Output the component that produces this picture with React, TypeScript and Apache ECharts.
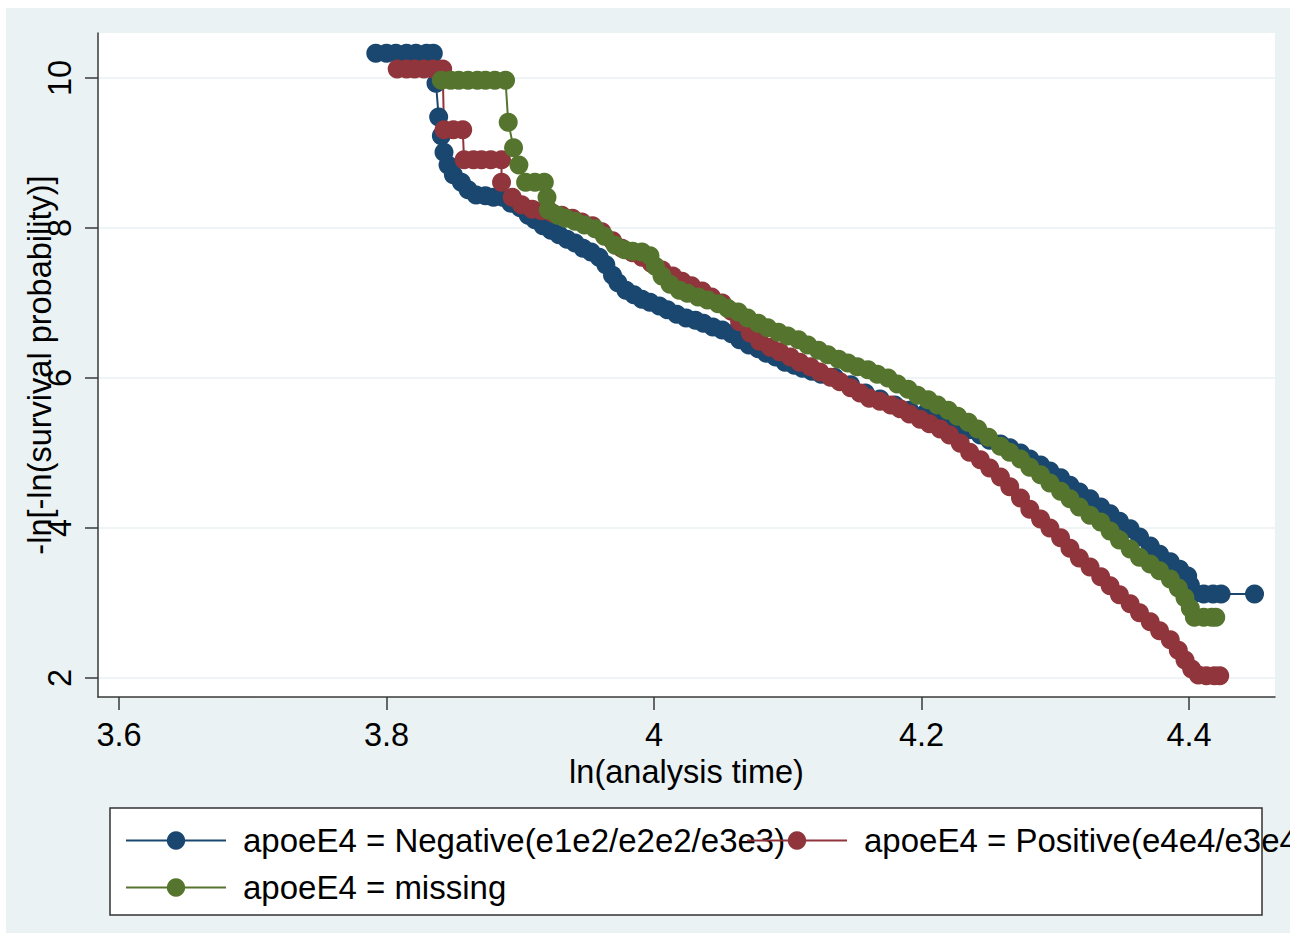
import React, { useEffect, useRef } from "react";
import * as echarts from "echarts";

const FONT = "'Liberation Sans', Arial, Helvetica, sans-serif";

const xTicks = [3.6, 3.8, 4.0, 4.2, 4.4];
const yTicks = [2, 4, 6, 8, 10];
const xRange = [3.5843, 4.4643];
const yRange = [1.747, 10.6];

const seriesNames = [
  "apoeE4 = Negative(e1e2/e2e2/e3e3)",
  "apoeE4 = Positive(e4e4/e3e4)",
  "apoeE4 = missing",
];
const seriesColors = ["#1A476F", "#90353B", "#55752F"];

// apoeE4 = Negative
const negX = [3.792, 3.800, 3.807, 3.815, 3.822, 3.830, 3.835, 3.837, 3.839, 3.841, 3.843, 3.846, 3.850, 3.856, 3.861, 3.867, 3.874, 3.880, 3.887, 3.893, 3.900, 3.906, 3.911, 3.917, 3.923, 3.929, 3.935, 3.941, 3.947, 3.953, 3.959, 3.964, 3.969, 3.973, 3.979, 3.985, 3.991, 3.997, 4.004, 4.010, 4.017, 4.024, 4.031, 4.037, 4.044, 4.051, 4.058, 4.064, 4.071, 4.078, 4.084, 4.091, 4.098, 4.105, 4.111, 4.118, 4.125, 4.135, 4.147, 4.158, 4.169, 4.180, 4.191, 4.203, 4.214, 4.221, 4.229, 4.236, 4.244, 4.251, 4.259, 4.266, 4.274, 4.281, 4.289, 4.296, 4.304, 4.311, 4.318, 4.326, 4.334, 4.341, 4.348, 4.356, 4.363, 4.371, 4.378, 4.386, 4.393, 4.399, 4.401, 4.404, 4.411, 4.418, 4.424, 4.449];
const negY = [10.33, 10.33, 10.33, 10.33, 10.33, 10.33, 10.33, 9.93, 9.48, 9.23, 9.01, 8.84, 8.71, 8.61, 8.51, 8.44, 8.43, 8.41, 8.41, 8.33, 8.27, 8.17, 8.11, 8.03, 7.97, 7.91, 7.85, 7.80, 7.73, 7.68, 7.61, 7.51, 7.37, 7.27, 7.17, 7.11, 7.05, 7.01, 6.96, 6.91, 6.85, 6.80, 6.77, 6.73, 6.68, 6.64, 6.59, 6.51, 6.44, 6.39, 6.33, 6.28, 6.21, 6.17, 6.13, 6.09, 6.05, 6.01, 5.91, 5.80, 5.72, 5.64, 5.57, 5.53, 5.47, 5.43, 5.37, 5.31, 5.24, 5.17, 5.12, 5.07, 5.00, 4.92, 4.84, 4.76, 4.67, 4.57, 4.48, 4.39, 4.28, 4.19, 4.09, 3.99, 3.88, 3.76, 3.65, 3.55, 3.45, 3.36, 3.24, 3.13, 3.12, 3.12, 3.12, 3.12];

// apoeE4 = Positive
const posX = [3.808, 3.815, 3.821, 3.828, 3.835, 3.842, 3.843, 3.850, 3.857, 3.858, 3.865, 3.871, 3.878, 3.886, 3.886, 3.894, 3.901, 3.909, 3.916, 3.924, 3.931, 3.939, 3.946, 3.954, 3.961, 3.969, 3.976, 3.984, 3.991, 3.998, 4.006, 4.014, 4.021, 4.028, 4.036, 4.043, 4.051, 4.058, 4.064, 4.072, 4.079, 4.087, 4.094, 4.102, 4.109, 4.117, 4.124, 4.132, 4.139, 4.147, 4.154, 4.161, 4.169, 4.177, 4.184, 4.191, 4.199, 4.206, 4.214, 4.221, 4.229, 4.236, 4.244, 4.251, 4.259, 4.266, 4.274, 4.281, 4.289, 4.296, 4.304, 4.311, 4.318, 4.326, 4.334, 4.341, 4.348, 4.356, 4.363, 4.371, 4.378, 4.386, 4.392, 4.397, 4.402, 4.407, 4.413, 4.419, 4.423];
const posY = [10.12, 10.12, 10.12, 10.12, 10.12, 10.12, 9.31, 9.31, 9.31, 8.91, 8.91, 8.91, 8.91, 8.91, 8.61, 8.41, 8.31, 8.25, 8.23, 8.20, 8.17, 8.13, 8.08, 8.03, 7.95, 7.83, 7.73, 7.67, 7.61, 7.53, 7.44, 7.36, 7.29, 7.23, 7.16, 7.08, 7.00, 6.89, 6.75, 6.60, 6.49, 6.41, 6.35, 6.28, 6.21, 6.15, 6.08, 6.01, 5.95, 5.87, 5.80, 5.73, 5.69, 5.64, 5.59, 5.52, 5.45, 5.39, 5.32, 5.24, 5.13, 5.01, 4.91, 4.80, 4.68, 4.55, 4.40, 4.25, 4.12, 4.00, 3.87, 3.73, 3.60, 3.48, 3.35, 3.23, 3.11, 2.99, 2.87, 2.75, 2.63, 2.51, 2.37, 2.24, 2.12, 2.04, 2.03, 2.03, 2.03];

// apoeE4 = missing
const misX = [3.841, 3.848, 3.854, 3.861, 3.868, 3.874, 3.881, 3.889, 3.891, 3.895, 3.899, 3.904, 3.911, 3.918, 3.920, 3.921, 3.928, 3.934, 3.941, 3.948, 3.956, 3.963, 3.971, 3.978, 3.984, 3.991, 3.997, 4.001, 4.006, 4.012, 4.019, 4.025, 4.033, 4.040, 4.048, 4.055, 4.063, 4.070, 4.078, 4.085, 4.093, 4.100, 4.108, 4.115, 4.123, 4.130, 4.138, 4.145, 4.152, 4.160, 4.167, 4.175, 4.182, 4.190, 4.197, 4.205, 4.212, 4.220, 4.227, 4.235, 4.242, 4.250, 4.259, 4.266, 4.274, 4.281, 4.289, 4.296, 4.304, 4.311, 4.318, 4.326, 4.334, 4.341, 4.348, 4.356, 4.363, 4.371, 4.378, 4.386, 4.392, 4.397, 4.401, 4.404, 4.411, 4.417, 4.420];
const misY = [9.97, 9.97, 9.97, 9.97, 9.97, 9.97, 9.97, 9.97, 9.41, 9.07, 8.84, 8.61, 8.61, 8.61, 8.41, 8.24, 8.17, 8.13, 8.09, 8.04, 7.99, 7.89, 7.77, 7.71, 7.69, 7.68, 7.63, 7.49, 7.36, 7.25, 7.17, 7.13, 7.08, 7.04, 6.99, 6.93, 6.88, 6.80, 6.73, 6.67, 6.61, 6.56, 6.51, 6.44, 6.37, 6.31, 6.25, 6.20, 6.15, 6.11, 6.05, 6.00, 5.92, 5.85, 5.77, 5.71, 5.64, 5.57, 5.49, 5.41, 5.32, 5.21, 5.09, 5.01, 4.92, 4.81, 4.71, 4.60, 4.49, 4.39, 4.28, 4.17, 4.08, 3.96, 3.84, 3.72, 3.61, 3.52, 3.43, 3.32, 3.20, 3.07, 2.93, 2.81, 2.81, 2.81, 2.81];

const seriesX = [negX, posX, misX];
const seriesY = [negY, posY, misY];

const textStyleBase = { fontFamily: FONT, fontSize: 32.5, color: "#000" };
const axisColor = "#3a3a3a";
const gridColor = "#EAF2F3";

export default function App() {
  const ref = useRef<HTMLDivElement>(null);

  useEffect(() => {
    if (!ref.current) return;
    const chart = echarts.init(ref.current, undefined, { renderer: "svg" });

    const series = seriesNames.map((name, i) => ({
      name,
      type: "line",
      data: seriesX[i].map((x, j) => [x, seriesY[i][j]]),
      symbol: "circle",
      symbolSize: 19,
      showSymbol: true,
      color: seriesColors[i],
      itemStyle: { color: seriesColors[i], borderWidth: 0 },
      lineStyle: { color: seriesColors[i], width: 2 },
      emphasis: { disabled: true },
      silent: true,
      clip: false,
    }));

    const legendBase = {
      orient: "horizontal",
      padding: 0,
      itemWidth: 100,
      itemHeight: 23,
      itemGap: 0,
      selectedMode: false,
      textStyle: { ...textStyleBase, fontSize: 33, lineHeight: 32, padding: [0, 0, 0, 12] },
    };

    chart.setOption({
      animation: false,
      backgroundColor: "#EAF2F3",
      textStyle: { fontFamily: FONT },
      grid: {
        left: 92,
        top: 25,
        right: 15,
        bottom: 236,
        show: true,
        backgroundColor: "#ffffff",
        borderWidth: 0,
        containLabel: false,
        outerBoundsMode: "none",
      },
      xAxis: {
        type: "value",
        min: xRange[0],
        max: xRange[1],
        name: "ln(analysis time)",
        nameLocation: "middle",
        nameGap: 58,
        nameMoveOverlap: false,
        nameTextStyle: { ...textStyleBase },
        axisLine: { show: true, onZero: false, lineStyle: { color: axisColor, width: 1.5 } },
        axisTick: { show: true, length: 13, customValues: xTicks, lineStyle: { color: axisColor, width: 1.5 } },
        axisLabel: { customValues: xTicks, margin: 21, ...textStyleBase, formatter: (v: number) => String(Number(v.toFixed(1))) },
        splitLine: { show: false },
      },
      yAxis: {
        type: "value",
        min: yRange[0],
        max: yRange[1],
        name: "-ln[-ln(survival probability)]",
        nameLocation: "middle",
        nameRotate: 90,
        nameGap: 42,
        nameMoveOverlap: false,
        nameTextStyle: { ...textStyleBase },
        axisLine: { show: true, onZero: false, lineStyle: { color: axisColor, width: 1.5 } },
        axisTick: { show: true, length: 13, customValues: yTicks, lineStyle: { color: axisColor, width: 1.5 } },
        axisLabel: { customValues: yTicks, rotate: 90, margin: 22, ...textStyleBase },
        splitLine: { show: true, lineStyle: { color: gridColor, width: 1.5 } },
      },
      legend: [
        { ...legendBase, data: [seriesNames[0]], left: 119, top: 816 },
        { ...legendBase, data: [seriesNames[1]], left: 740, top: 816 },
        { ...legendBase, data: [seriesNames[2]], left: 119, top: 863 },
      ],
      graphic: [
        {
          type: "rect",
          silent: true,
          z: 0,
          shape: { x: 104, y: 800, width: 1152, height: 107 },
          style: { fill: "#ffffff", stroke: "#333333", lineWidth: 1.5 },
        },
      ],
      series,
    });

    return () => chart.dispose();
  }, []);

  return (
    <div
      ref={ref}
      style={{ position: "absolute", left: 6, top: 8, width: 1284, height: 925 }}
    />
  );
}
